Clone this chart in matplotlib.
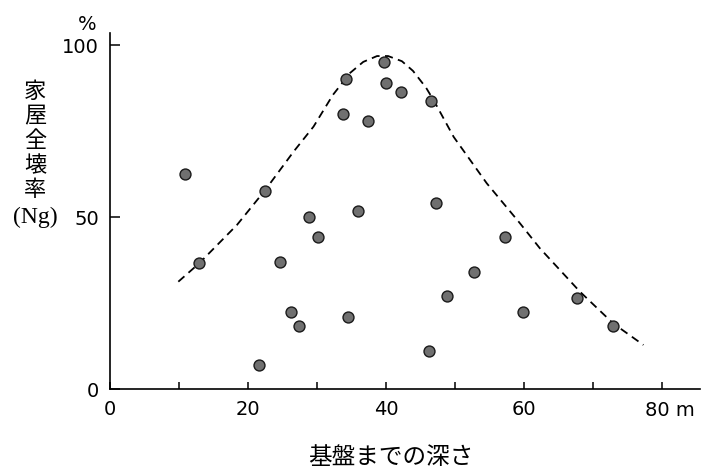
import matplotlib.pyplot as plt

plt.rcParams['font.family'] = ['DejaVu Sans']

# depth to bedrock (m) vs. ratio of totally destroyed houses (%)
depth = [10.9, 12.9, 21.6, 22.4, 24.6, 26.3, 27.4, 28.8, 30.2, 33.7, 34.2, 34.5, 36.0,
         37.4, 39.7, 40.0, 42.1, 46.2, 46.5, 47.2, 48.8, 52.8, 57.3, 59.9, 67.7, 72.9]
ratio = [62.4, 36.5, 7.1, 57.6, 36.9, 22.4, 18.3, 49.9, 44.2, 79.9, 90.0, 20.8, 51.7,
         78.0, 95.2, 89.0, 86.4, 11.0, 83.8, 54.2, 27.1, 34.1, 44.3, 22.4, 26.4, 18.3]

# dashed envelope
env_x = [9.9, 12.9, 18.4, 22.4, 26.6, 29.5, 32.3, 34.8, 36.7, 38.7, 40.3, 42.3,
         43.9, 45.8, 47.0, 49.8, 54.6, 59.4, 62.3, 68.1, 72.9, 77.3]
env_y = [31.2, 36.5, 47.7, 57.6, 69.0, 76.3, 85.5, 91.9, 95.1, 96.8, 96.8, 95.3,
         92.5, 87.6, 83.6, 73.3, 59.8, 48.2, 40.9, 28.3, 19.1, 12.8]

x_ticks = [0, 20, 40, 60, 80]
x_ticklabels = ["0", "20", "40", "60", ""]   # "80 m" is drawn separately
x_minor = [10, 30, 50, 70]
y_ticks = [0, 50, 100]
ylabel_chars = ["家", "屋", "全", "壊", "率"]
xlabel = "基盤までの深さ"

W, H = 714, 469
fig = plt.figure(figsize=(W / 100, H / 100), dpi=100)
ax = fig.add_axes([110 / W, 1 - 389 / H, 590 / W, 356 / H])

ax.plot(env_x, env_y, color="black", lw=1.3, dashes=(4.5, 3))
ax.scatter(depth, ratio, s=62, facecolor="#707070", edgecolor="#1a1a1a",
           linewidths=1.0, zorder=3)

ax.set_xlim(0, 85.5)
ax.set_ylim(0, 103.5)
for s in ["top", "right"]:
    ax.spines[s].set_visible(False)
for s in ["left", "bottom"]:
    ax.spines[s].set_linewidth(1.2)

ax.set_xticks(x_ticks)
ax.set_xticklabels(x_ticklabels)
ax.set_xticks(x_minor, minor=True)
ax.set_yticks(y_ticks)
ax.set_yticklabels([str(v) for v in y_ticks])
ax.tick_params(axis="both", which="both", direction="in", labelsize=14, pad=8, width=1.1)
ax.tick_params(axis="y", which="major", length=7)
ax.tick_params(axis="x", which="both", length=5)

# last x label with unit, and the % unit on top of the y axis
fig.text(670 / W, 1 - 410 / H, "80 m", ha="center", va="center", fontsize=14)
fig.text(87 / W, 1 - 24 / H, "%", ha="center", va="center", fontsize=14)

# vertical y-axis label
for i, ch in enumerate(ylabel_chars):
    fig.text(35 / W, 1 - (91.5 + 24.6 * i) / H, ch, ha="center", va="center",
             fontsize=16, family=["Noto Sans CJK JP"])
fig.text(35 / W, 1 - 217 / H, "(Ng)", ha="center", va="center",
         fontsize=17, family=["Liberation Serif"])

fig.text(391 / W, 1 - 457 / H, xlabel, ha="center", va="center",
         fontsize=17, family=["Noto Sans CJK JP"])

fig.savefig("out.png", dpi=100)
